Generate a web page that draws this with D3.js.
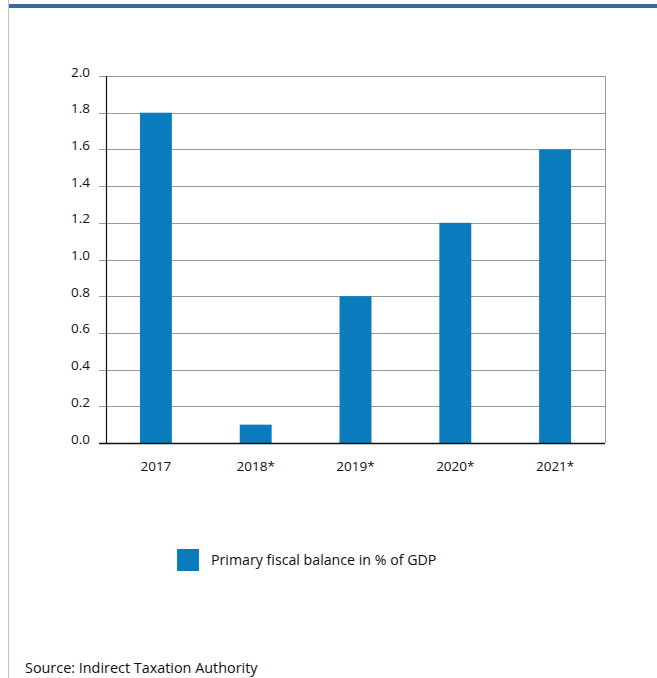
<!DOCTYPE html>
<html>
<head>
<meta charset="utf-8">
<script src="https://cdn.jsdelivr.net/npm/d3@7"></script>
<style>
  html, body { margin: 0; padding: 0; background: #fff; }
  svg { display: block; font-family: "Open Sans", "Noto Sans", sans-serif; }
</style>
</head>
<body>
<svg id="chart" width="657" height="678"></svg>
<script>
// Primary fiscal balance, % of GDP
const categories = ["2017", "2018*", "2019*", "2020*", "2021*"];
const values = [1.8, 0.1, 0.8, 1.2, 1.6];
const yTicks = [0, 0.2, 0.4, 0.6, 0.8, 1.0, 1.2, 1.4, 1.6, 1.8, 2.0];
const seriesName = "Primary fiscal balance in % of GDP";
const sourceText = "Source: Indirect Taxation Authority";

const svg = d3.select("#chart");
const barColor = "#0a7cbe";
const textColor = "#111";
const fontFamily = '"Open Sans", "Noto Sans", sans-serif';

// page frame: header rule and left margin line
svg.append("rect").attr("x", 8).attr("y", 4).attr("width", 649).attr("height", 4).attr("fill", "#3d66a3");
svg.append("line").attr("x1", 8.5).attr("x2", 8.5).attr("y1", 0).attr("y2", 678)
  .attr("stroke", "#c4c4c4").attr("stroke-width", 1);

const plot = { left: 106, right: 605, top: 76, bottom: 443 };

const x = d3.scaleBand().domain(categories).range([plot.left, plot.right]).paddingInner(0.68).paddingOuter(0.34);
const y = d3.scaleLinear().domain([0, 2]).range([plot.bottom, plot.top]);

// gridlines with outward ticks
const grid = svg.append("g");
grid.selectAll("line").data(yTicks.filter(d => d > 0)).join("line")
  .attr("x1", plot.left - 7).attr("x2", plot.right)
  .attr("y1", d => Math.round(y(d)) + 0.5).attr("y2", d => Math.round(y(d)) + 0.5)
  .attr("stroke", "#9a9a9a").attr("stroke-width", 1);

// right border of plot
svg.append("line").attr("x1", plot.right + 0.5).attr("x2", plot.right + 0.5)
  .attr("y1", plot.top).attr("y2", plot.bottom)
  .attr("stroke", "#9a9a9a").attr("stroke-width", 1);

// bars
svg.append("g").selectAll("rect").data(values).join("rect")
  .attr("x", (d, i) => x(categories[i]))
  .attr("width", x.bandwidth())
  .attr("y", d => y(d))
  .attr("height", d => y(0) - y(d))
  .attr("fill", barColor);

// y axis
const yAxis = d3.axisLeft(y).tickValues(yTicks).tickFormat(d3.format(".1f")).tickSize(0).tickPadding(16);
const yg = svg.append("g").attr("transform", `translate(${plot.left},0)`).call(yAxis)
  .attr("font-family", fontFamily).attr("font-size", 13.5);
yg.select(".domain").remove();
yg.selectAll("text").attr("fill", textColor).attr("dy", "0em");
svg.append("line").attr("x1", plot.left + 0.5).attr("x2", plot.left + 0.5)
  .attr("y1", plot.top).attr("y2", plot.bottom).attr("stroke", "#111").attr("stroke-width", 1.2);

// baseline
svg.append("line").attr("x1", plot.left - 7).attr("x2", plot.right)
  .attr("y1", plot.bottom + 0.5).attr("y2", plot.bottom + 0.5).attr("stroke", "#111").attr("stroke-width", 1.3);

// x axis labels
const xAxis = d3.axisBottom(x).tickSize(0).tickPadding(0);
const xg = svg.append("g").attr("transform", `translate(0,${plot.bottom})`).call(xAxis)
  .attr("font-family", fontFamily).attr("font-size", 13.5);
xg.select(".domain").remove();
xg.selectAll("text").attr("fill", textColor).attr("y", 28).attr("dy", "0em");

// legend
const lg = svg.append("g").attr("transform", "translate(177,549)");
lg.append("rect").attr("width", 22).attr("height", 22).attr("fill", barColor);
lg.append("text").attr("x", 34).attr("y", 16).attr("font-size", 14.2).attr("fill", textColor).text(seriesName);

// source
svg.append("text").attr("x", 25).attr("y", 673).attr("font-size", 14.4).attr("fill", textColor).text(sourceText);
</script>
</body>
</html>
